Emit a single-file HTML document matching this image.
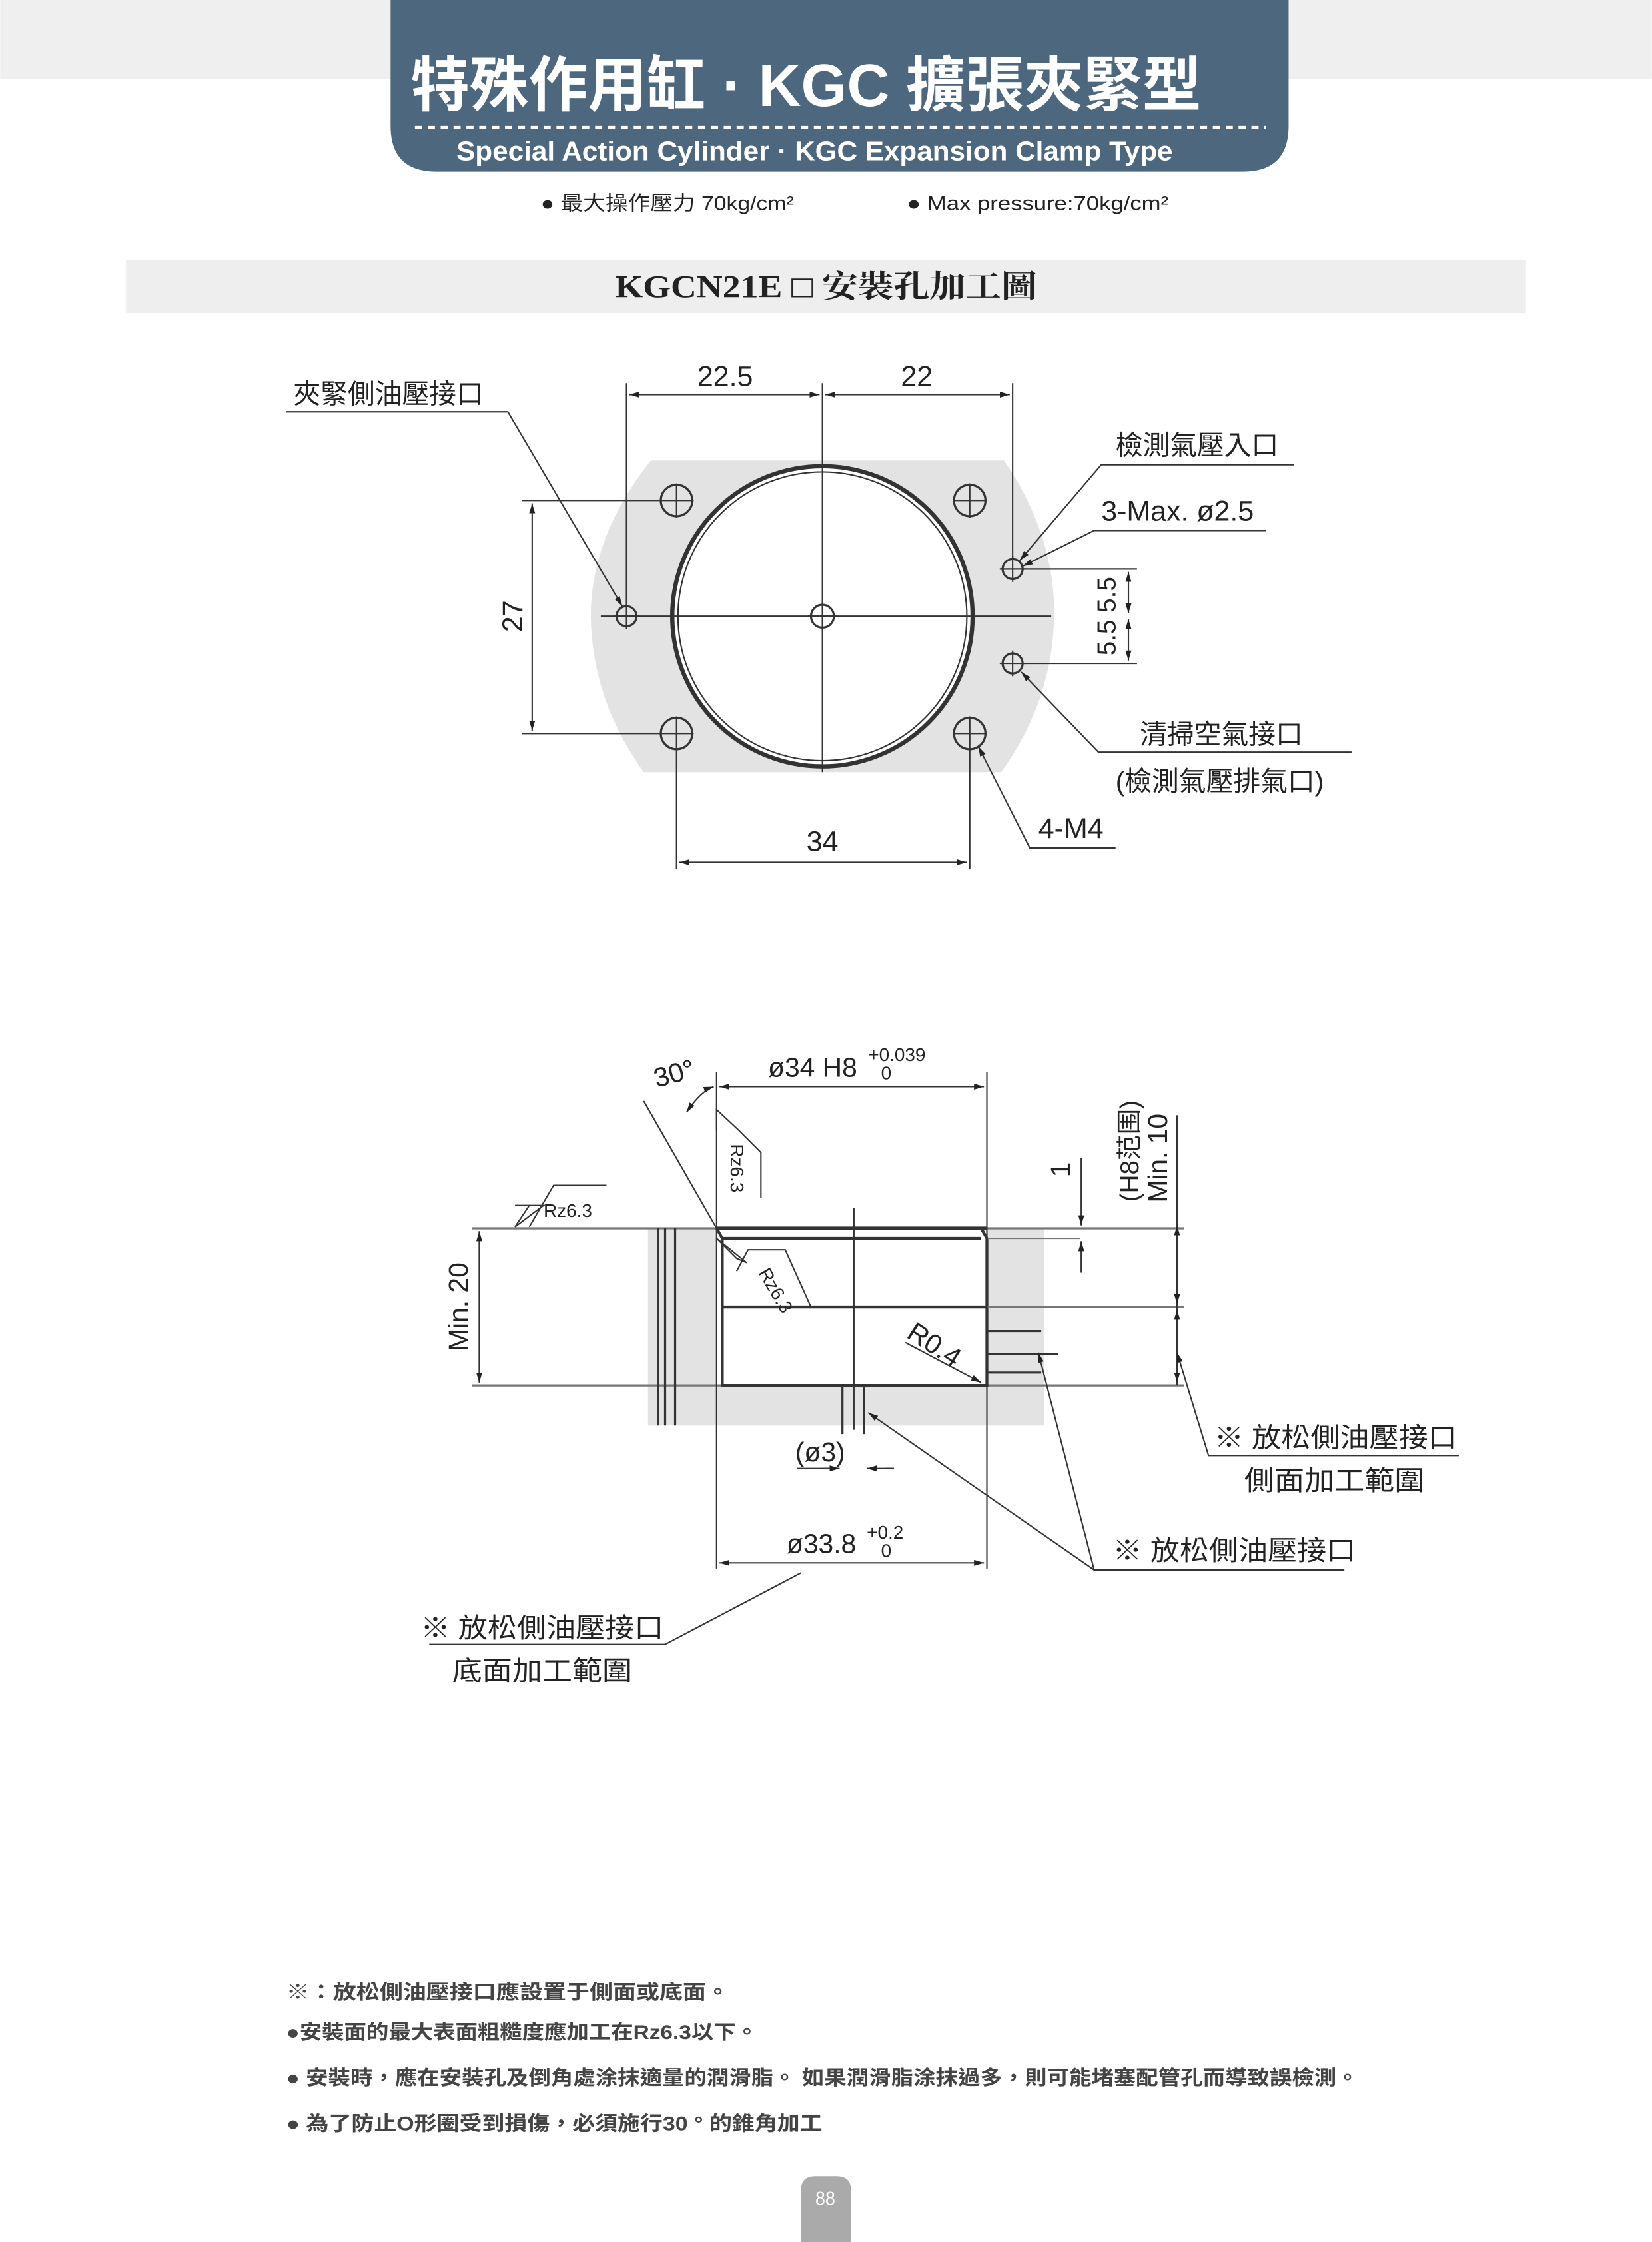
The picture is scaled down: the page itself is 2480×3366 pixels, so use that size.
<!DOCTYPE html>
<html><head><meta charset="utf-8"><style>
html,body{margin:0;padding:0;background:#fff;}
svg{display:block;}
text{font-family:"Liberation Sans","Noto Sans CJK TC",sans-serif;fill:#222;}
</style></head><body>
<svg width="2480" height="3366" viewBox="0 0 1155 1568" xmlns="http://www.w3.org/2000/svg">
<defs>
<marker id="a" viewBox="0 0 10 10" refX="10" refY="5" markerWidth="7" markerHeight="7" orient="auto-start-reverse"><path d="M0,2 L10,5 L0,8 Z" fill="#222"/></marker>
</defs>
<rect x="0" y="0" width="1155" height="55" fill="#efefef"/>
<path d="M273 0 H901 V88 Q901 120 869 120 H305 Q273 120 273 88 Z" fill="#4c677e"/>
<text x="287" y="74" font-size="42" font-weight="bold" textLength="553" lengthAdjust="spacingAndGlyphs" style="fill:#fff">特殊作用缸 · KGC 擴張夾緊型</text>
<line x1="290" y1="89" x2="885" y2="89" stroke="#fff" stroke-width="2" stroke-dasharray="5,4"/>
<text x="319" y="112" font-size="19" font-weight="bold" textLength="501" lengthAdjust="spacingAndGlyphs" style="fill:#fff">Special Action Cylinder  ·  KGC Expansion Clamp Type</text>
<text x="378" y="147" font-size="14" textLength="177" lengthAdjust="spacingAndGlyphs">● 最大操作壓力 70kg/cm²</text>
<text x="634" y="147" font-size="14" textLength="183" lengthAdjust="spacingAndGlyphs">●  Max pressure:70kg/cm²</text>
<rect x="88" y="182" width="979" height="37" fill="#eeeeee"/>
<text x="430" y="208" font-size="22" font-weight="bold" textLength="295" lengthAdjust="spacingAndGlyphs" style="font-family:'Liberation Serif','Noto Serif CJK SC',serif">KGCN21E □ 安裝孔加工圖</text>

<g stroke="#333" fill="none" stroke-width="1">
<path d="M455 322 L702 322 Q738 375 737 431 Q736 490 700 540 L450 540 Q414 490 413 431 Q413 375 455 322 Z" fill="#e3e3e3" stroke="none"/>
<circle cx="575" cy="431" r="105" stroke-width="3" fill="#fff"/>
<circle cx="575" cy="431" r="101"/>
<line x1="420" y1="431" x2="735" y2="431"/>
<line x1="575" y1="268" x2="575" y2="540"/>
<g stroke-width="1.5">
<circle cx="473" cy="350" r="11"/><circle cx="678" cy="350" r="11"/><circle cx="473" cy="513" r="11"/><circle cx="678" cy="513" r="11"/>
<circle cx="438" cy="431" r="7"/><circle cx="708" cy="398" r="7"/><circle cx="708" cy="464" r="7"/><circle cx="575" cy="431" r="8"/>
</g>
<path d="M461 350h24M473 338v24M666 350h24M678 338v24M461 513h24M473 501v24M666 513h24M678 501v24M429 431h18M438 422v18M699 398h18M708 389v18M699 464h18M708 455v18M565 431h20M575 421v20"/>
<line x1="438" y1="268" x2="438" y2="424"/><line x1="708" y1="268" x2="708" y2="391"/>
<line x1="440" y1="276" x2="573" y2="276" marker-start="url(#a)" marker-end="url(#a)"/>
<line x1="577" y1="276" x2="706" y2="276" marker-start="url(#a)" marker-end="url(#a)"/>
<line x1="365" y1="350" x2="462" y2="350"/><line x1="365" y1="513" x2="462" y2="513"/>
<line x1="372" y1="352" x2="372" y2="511" marker-start="url(#a)" marker-end="url(#a)"/>
<line x1="473" y1="524" x2="473" y2="608"/><line x1="678" y1="524" x2="678" y2="608"/>
<line x1="475" y1="603" x2="676" y2="603" marker-start="url(#a)" marker-end="url(#a)"/>
<line x1="716" y1="398" x2="795" y2="398"/><line x1="716" y1="464" x2="795" y2="464"/>
<line x1="789" y1="400" x2="789" y2="429" marker-start="url(#a)" marker-end="url(#a)"/>
<line x1="789" y1="433" x2="789" y2="462" marker-start="url(#a)" marker-end="url(#a)"/>
<path d="M200 288H355L435 424" marker-end="url(#a)"/>
<path d="M905 325H770L713 392" marker-end="url(#a)"/>
<path d="M885 371H765L715 396" marker-end="url(#a)"/>
<path d="M945 526H768L714 470" marker-end="url(#a)"/>
<path d="M780 593H720L684 522" marker-end="url(#a)"/>
</g>
<g font-size="20">
<text x="507" y="270" text-anchor="middle">22.5</text>
<text x="641" y="270" text-anchor="middle">22</text>
<text x="365" y="431" text-anchor="middle" transform="rotate(-90 365 431)">27</text>
<text x="575" y="595" text-anchor="middle">34</text>
<text x="780" y="431" text-anchor="middle" transform="rotate(-90 780 431)" font-size="18">5.5 5.5</text>
<text x="205" y="282" font-size="19">夾緊側油壓接口</text>
<text x="780" y="318" font-size="19">檢測氣壓入口</text>
<text x="770" y="364">3-Max. ø2.5</text>
<text x="797" y="520" font-size="19">清掃空氣接口</text>
<text x="780" y="553" font-size="19">(檢測氣壓排氣口)</text>
<text x="726" y="586">4-M4</text>
</g>

<g stroke="#333" fill="none" stroke-width="1">
<rect x="453" y="859" width="277" height="138" fill="#e3e3e3" stroke="none"/>
<rect x="501" y="859" width="189" height="110" fill="#fff" stroke="none"/>
<line x1="330" y1="859" x2="828" y2="859" stroke="#777" stroke-width="1.5"/>
<line x1="330" y1="969" x2="828" y2="969" stroke="#777" stroke-width="1.5"/>
<line x1="501" y1="859" x2="690" y2="859" stroke-width="2.5"/>
<line x1="505" y1="866" x2="686" y2="866" stroke-width="2"/>
<path d="M501 859L505 866V969H690V866L686 859" stroke-width="2"/>
<line x1="505" y1="914" x2="690" y2="914" stroke-width="2"/>
<line x1="690" y1="914" x2="828" y2="914" stroke="#777"/>
<line x1="690" y1="866" x2="755" y2="866" stroke="#777"/>
<path d="M460 859V997M465 859V997M472 859V997" stroke-width="1.5"/>
<line x1="597" y1="845" x2="597" y2="1000"/>
<path d="M589 969V1003M604 969V1003" stroke-width="1.5"/>
<path d="M690 931H728M690 947H740M690 960H728" stroke-width="1.5"/>
<line x1="501" y1="750" x2="501" y2="1097"/><line x1="690" y1="750" x2="690" y2="1097"/>
<line x1="503" y1="760" x2="688" y2="760" marker-start="url(#a)" marker-end="url(#a)"/>
<line x1="450" y1="770" x2="501" y2="859"/>
<path d="M480 778 Q490 763 499 760" marker-start="url(#a)" marker-end="url(#a)"/>
<line x1="335" y1="861" x2="335" y2="967" marker-start="url(#a)" marker-end="url(#a)"/>
<line x1="823" y1="780" x2="823" y2="969"/>
<line x1="823" y1="880" x2="823" y2="857" marker-end="url(#a)"/>
<line x1="823" y1="895" x2="823" y2="912" marker-end="url(#a)"/>
<line x1="823" y1="935" x2="823" y2="916" marker-end="url(#a)"/>
<line x1="823" y1="950" x2="823" y2="967" marker-end="url(#a)"/>
<line x1="756" y1="810" x2="756" y2="857" marker-end="url(#a)"/>
<line x1="756" y1="890" x2="756" y2="868" marker-end="url(#a)"/>
<path d="M557 1027H587M619 1027H625" />
<line x1="575" y1="1027" x2="587" y2="1027" marker-end="url(#a)"/>
<line x1="625" y1="1027" x2="606" y2="1027" marker-end="url(#a)"/>
<line x1="503" y1="1093" x2="688" y2="1093" marker-start="url(#a)" marker-end="url(#a)"/>
<path d="M360 858L370 843L380 843L360 858 M360 843H380 M370 858L387 829H424" />
<path d="M501 790V776L516 790L532 806V838"/>
<path d="M501 866L522 883L515 880Z M515 889L523 874L549 874L567 914"/>
<path d="M633 939L686 967" marker-end="url(#a)"/>
<path d="M1020 1018H845L823 946" marker-end="url(#a)"/>
<path d="M940 1098H765L607 988" marker-end="url(#a)"/>
<path d="M765 1098L726 946" marker-end="url(#a)"/>
<path d="M300 1150H465L560 1100"/>
</g>
<g font-size="19">
<text x="473" y="757" text-anchor="middle" transform="rotate(-15 473 757)">30°</text>
<text x="537" y="753">ø34 H8</text>
<text x="607" y="742" font-size="13">+0.039</text>
<text x="616" y="755" font-size="13">0</text>
<text x="380" y="851" font-size="13">Rz6.3</text>
<text x="511" y="800" font-size="13" transform="rotate(90 511 800)">Rz6.3</text>
<text x="530" y="890" font-size="13" transform="rotate(60 530 890)">Rz6.3</text>
<text x="633" y="935" transform="rotate(33 633 935)">R0.4</text>
<text x="327" y="914" text-anchor="middle" transform="rotate(-90 327 914)">Min. 20</text>
<text x="748" y="818" text-anchor="middle" transform="rotate(-90 748 818)">1</text>
<text x="796" y="805" text-anchor="middle" transform="rotate(-90 796 805)" font-size="18">(H8范围)</text>
<text x="816" y="810" text-anchor="middle" transform="rotate(-90 816 810)">Min. 10</text>
<text x="556" y="1022">(ø3)</text>
<text x="550" y="1086">ø33.8</text>
<text x="606" y="1076" font-size="13">+0.2</text>
<text x="616" y="1089" font-size="13">0</text>
<text x="849" y="1012" textLength="170" lengthAdjust="spacingAndGlyphs">※ 放松側油壓接口</text>
<text x="870" y="1042" textLength="126" lengthAdjust="spacingAndGlyphs">側面加工範圍</text>
<text x="778" y="1091" textLength="170" lengthAdjust="spacingAndGlyphs">※ 放松側油壓接口</text>
<text x="294" y="1145" textLength="170" lengthAdjust="spacingAndGlyphs">※ 放松側油壓接口</text>
<text x="316" y="1175" textLength="126" lengthAdjust="spacingAndGlyphs">底面加工範圍</text>
</g>
<g font-size="14" style="fill:#333" font-weight="bold">
<text x="200" y="1398" textLength="310" lengthAdjust="spacingAndGlyphs" style="fill:#444">※：放松側油壓接口應設置于側面或底面。</text>
<text x="200" y="1426" textLength="330" lengthAdjust="spacingAndGlyphs" style="fill:#444">●安裝面的最大表面粗糙度應加工在Rz6.3以下。</text>
<text x="200" y="1458" textLength="750" lengthAdjust="spacingAndGlyphs" style="fill:#444">● 安裝時，應在安裝孔及倒角處涂抹適量的潤滑脂。 如果潤滑脂涂抹過多，則可能堵塞配管孔而導致誤檢測。</text>
<text x="200" y="1490" textLength="375" lengthAdjust="spacingAndGlyphs" style="fill:#444">● 為了防止O形圈受到損傷，必須施行30 ° 的錐角加工</text>
</g>
<path d="M560 1568V1532Q560 1522 570 1522H585Q595 1522 595 1532V1568Z" fill="#aaaaaa"/>
<text x="577" y="1542" text-anchor="middle" font-size="14" style="fill:#fff;font-family:'Liberation Serif',serif">88</text>
</svg>
</body></html>
